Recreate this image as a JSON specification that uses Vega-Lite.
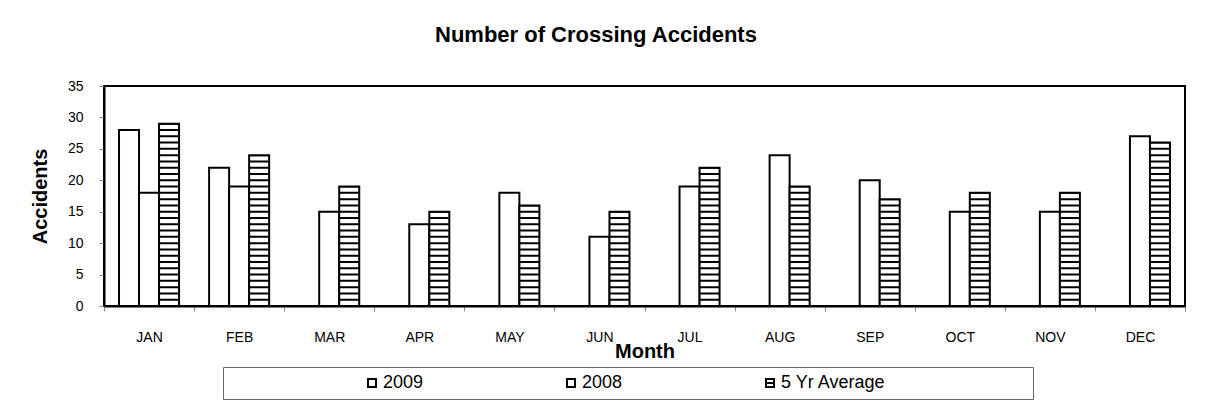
{
  "$schema": "https://vega.github.io/schema/vega-lite/v6.json",
  "width": 1081,
  "height": 220,
  "autosize": {"type": "none"},
  "padding": {"left": 104, "top": 86, "right": 22, "bottom": 97},
  "background": "white",
  "title": {"text": "Number of Crossing Accidents", "font": "Liberation Sans", "fontSize": 22, "fontWeight": "bold", "color": "black", "anchor": "middle", "frame": "bounds", "offset": 32, "dx": -12},
  "config": {"view": {"stroke": "black", "strokeWidth": 2}, "font": "Liberation Sans"},
  "data": {"values": [
    {"month": "JAN", "series": "2009", "value": 28},
    {"month": "JAN", "series": "2008", "value": 18},
    {"month": "JAN", "series": "5 Yr Average", "value": 29},
    {"month": "FEB", "series": "2009", "value": 22},
    {"month": "FEB", "series": "2008", "value": 19},
    {"month": "FEB", "series": "5 Yr Average", "value": 24},
    {"month": "MAR", "series": "2008", "value": 15},
    {"month": "MAR", "series": "5 Yr Average", "value": 19},
    {"month": "APR", "series": "2008", "value": 13},
    {"month": "APR", "series": "5 Yr Average", "value": 15},
    {"month": "MAY", "series": "2008", "value": 18},
    {"month": "MAY", "series": "5 Yr Average", "value": 16},
    {"month": "JUN", "series": "2008", "value": 11},
    {"month": "JUN", "series": "5 Yr Average", "value": 15},
    {"month": "JUL", "series": "2008", "value": 19},
    {"month": "JUL", "series": "5 Yr Average", "value": 22},
    {"month": "AUG", "series": "2008", "value": 24},
    {"month": "AUG", "series": "5 Yr Average", "value": 19},
    {"month": "SEP", "series": "2008", "value": 20},
    {"month": "SEP", "series": "5 Yr Average", "value": 17},
    {"month": "OCT", "series": "2008", "value": 15},
    {"month": "OCT", "series": "5 Yr Average", "value": 18},
    {"month": "NOV", "series": "2008", "value": 15},
    {"month": "NOV", "series": "5 Yr Average", "value": 18},
    {"month": "DEC", "series": "2008", "value": 27},
    {"month": "DEC", "series": "5 Yr Average", "value": 26}
  ]},
  "encoding": {
    "x": {
      "field": "month", "type": "nominal",
      "sort": ["JAN","FEB","MAR","APR","MAY","JUN","JUL","AUG","SEP","OCT","NOV","DEC"],
      "scale": {"paddingInner": 0, "paddingOuter": 0},
      "axis": {
        "title": "Month", "titleFontSize": 20, "titleFontWeight": "bold", "titleColor": "black", "titlePadding": -3,
        "labelFontSize": 14, "labelColor": "black", "labelPadding": 19, "labelAngle": 0,
        "tickBand": "extent", "tickSize": 5, "tickColor": "#888",
        "domainColor": "black", "domainWidth": 2
      }
    },
    "xOffset": {
      "field": "series", "type": "nominal",
      "scale": {"domain": ["2009", "2008", "5 Yr Average"], "paddingInner": 0, "paddingOuter": 0.75}
    },
    "y": {
      "field": "value", "type": "quantitative",
      "scale": {"domain": [0, 35], "nice": false},
      "axis": {
        "title": "Accidents", "titleFontSize": 20, "titleFontWeight": "bold", "titleColor": "black", "titlePadding": 17,
        "values": [0, 5, 10, 15, 20, 25, 30, 35],
        "labelFontSize": 14, "labelColor": "black", "labelPadding": 16,
        "tickSize": 5, "tickColor": "#888", "grid": false,
        "domainColor": "black", "domainWidth": 2
      }
    }
  },
  "layer": [
    {
      "mark": {"type": "bar", "stroke": "black", "strokeWidth": 2},
      "encoding": {
        "fill": {
          "field": "series", "type": "nominal",
          "scale": {"domain": ["2009", "2008", "5 Yr Average"], "range": ["white", "white", "white"]},
          "legend": {
            "orient": "none", "legendX": 119, "legendY": 281, "direction": "horizontal",
            "title": "\u00a0", "titleOrient": "left", "titleFontSize": 18, "titlePadding": 133,
            "strokeColor": "#666", "padding": 7, "columnPadding": 138,
            "symbolType": "square", "symbolSize": 64, "symbolStrokeColor": "black", "symbolStrokeWidth": 2, "symbolFillColor": "white",
            "labelFontSize": 18, "labelColor": "black", "labelOffset": 2, "labelLimit": 0,
            "labelExpr": "datum.label == '5 Yr Average' ? datum.label + '\u00a0\u00a0\u00a0\u00a0\u00a0\u00a0\u00a0\u00a0\u00a0\u00a0\u00a0\u00a0\u00a0\u00a0\u00a0\u00a0\u00a0\u00a0\u00a0\u00a0\u00a0\u00a0\u00a0\u00a0\u00a0\u00a0\u00a0\u00a0\u200b' : datum.label",
            "encode": {"symbols": {"update": {"shape": {"signal": "datum.value == '5 Yr Average' ? 'M-1,-1H1V1H-1ZM-1,0H1' : 'square'"}}}}
          }
        }
      }
    },
    {
      "transform": [{"filter": "datum.series == '5 Yr Average'"}],
      "mark": {"type": "rule", "color": "black", "strokeWidth": 19, "strokeDash": [2, 4.2857], "strokeDashOffset": 1, "strokeCap": "butt"},
      "encoding": {"y2": {"datum": 0}}
    }
  ]
}
